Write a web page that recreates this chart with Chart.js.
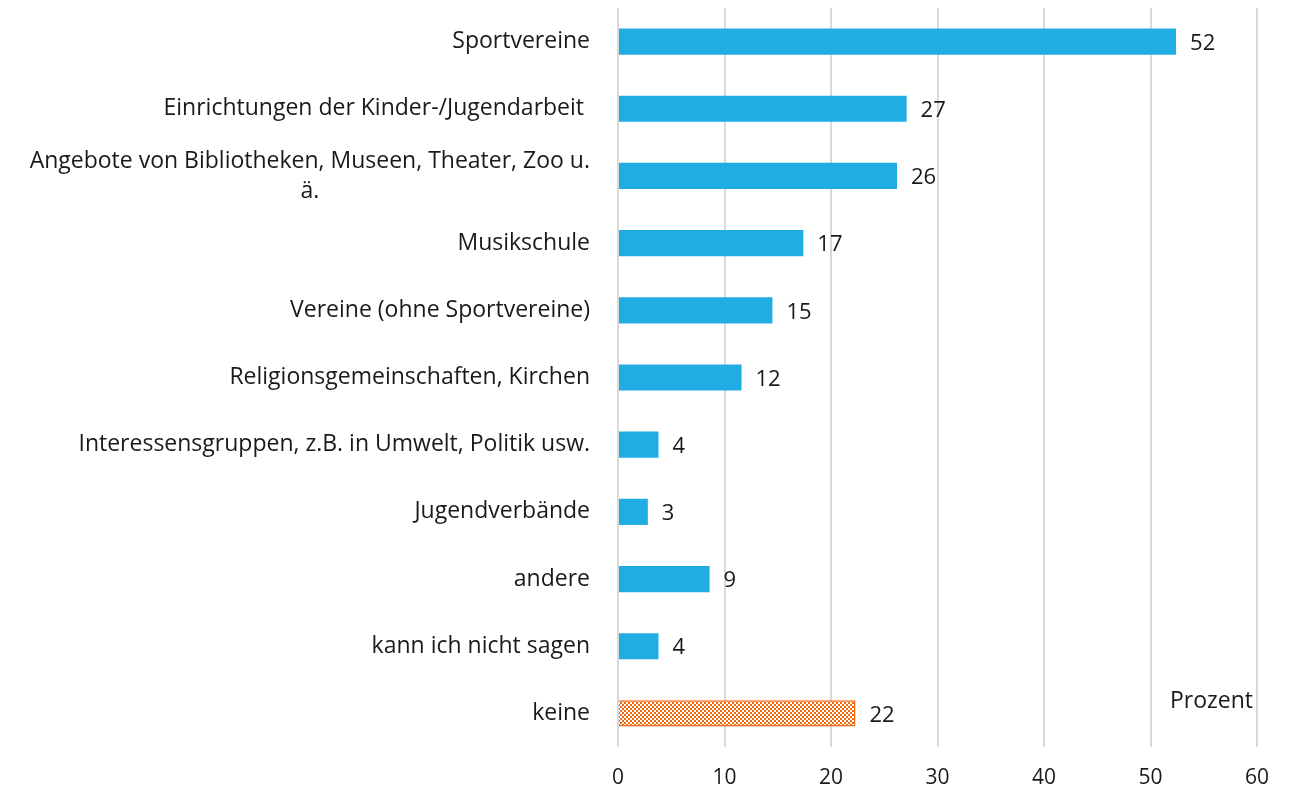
<!DOCTYPE html>
<html>
<head>
<meta charset="utf-8">
<script src="https://cdn.jsdelivr.net/npm/chart.js@4.4.0/dist/chart.umd.min.js"></script>
<style>
  html, body { margin: 0; padding: 0; background: #fff; }
  #wrap { width: 1289px; height: 787px; }
</style>
</head>
<body>
<div id="wrap"><canvas id="chart"></canvas></div>
<script>
// --- Data ---
const categories = [
  ['Sportvereine'],
  ['Einrichtungen der Kinder-/Jugendarbeit '],
  ['Angebote von Bibliotheken, Museen, Theater, Zoo u.', 'ä.'],
  ['Musikschule'],
  ['Vereine (ohne Sportvereine)'],
  ['Religionsgemeinschaften, Kirchen'],
  ['Interessensgruppen, z.B. in Umwelt, Politik usw.'],
  ['Jugendverbände'],
  ['andere'],
  ['kann ich nicht sagen'],
  ['keine']
];
const values = [52.4, 27.1, 26.2, 17.4, 14.5, 11.6, 3.8, 2.8, 8.6, 3.8, 22.3];
const valueLabels = ['52', '27', '26', '17', '15', '12', '4', '3', '9', '4', '22'];
const xTicks = [0, 10, 20, 30, 40, 50, 60];
const axisTitle = 'Prozent';

// --- Style ---
const FONT = '"Open Sans", "Noto Sans", sans-serif';
const BLUE = '#1FADE4';
const ORANGE = '#F2690F';

function makeHatch() {
  const c = document.createElement('canvas');
  c.width = 4; c.height = 4;
  const g = c.getContext('2d');
  g.fillStyle = ORANGE;
  g.fillRect(0, 0, 4, 4);
  g.fillStyle = '#ffffff';
  g.fillRect(0, 0, 2, 2);
  g.fillRect(2, 2, 2, 2);
  return g.createPattern(c, 'repeat');
}

const ctx = document.getElementById('chart').getContext('2d');
const hatch = makeHatch();

// --- Plugins: category labels, value labels, axis title ---
const labelPlugin = {
  id: 'labels',
  afterDatasetsDraw(chart) {
    const g = chart.ctx;
    const yScale = chart.scales.y;
    const meta = chart.getDatasetMeta(0);
    g.save();
    g.fillStyle = '#1a1a1a';
    g.textBaseline = 'middle';

    // category labels: block right-aligned, lines centered inside block
    g.font = '23px ' + FONT;
    const right = chart.chartArea.left - 28;
    const lineH = 30;
    categories.forEach((lines, i) => {
      const cy = yScale.getPixelForValue(i);
      const blockW = Math.max(...lines.map(l => g.measureText(l).width));
      const cx = right - blockW / 2;
      g.textAlign = 'center';
      lines.forEach((l, j) => {
        const y = cy + (j - (lines.length - 1) / 2) * lineH;
        g.fillText(l, cx, y);
      });
    });

    // value labels
    g.font = '22px ' + FONT;
    g.textAlign = 'left';
    meta.data.forEach((bar, i) => {
      g.fillText(valueLabels[i], bar.x + 14, bar.y + 2);
    });

    // axis title
    g.font = '23px ' + FONT;
    g.textAlign = 'right';
    g.fillText(axisTitle, chart.chartArea.right - 4, yScale.getPixelForValue(10) - 12);
    g.restore();
  }
};

new Chart(ctx, {
  type: 'bar',
  data: {
    labels: categories.map(l => l.join(' ')),
    datasets: [{
      data: values,
      backgroundColor: values.map((v, i) => i === values.length - 1 ? hatch : BLUE),
      borderColor: values.map((v, i) => i === values.length - 1 ? ORANGE : BLUE),
      borderWidth: values.map((v, i) => i === values.length - 1 ? 1.5 : 0),
      categoryPercentage: 1,
      barPercentage: 0.39
    }]
  },
  options: {
    indexAxis: 'y',
    responsive: true,
    maintainAspectRatio: false,
    animation: false,
    layout: { padding: { top: 8, right: 32, bottom: 0, left: 0 } },
    plugins: { legend: { display: false }, tooltip: { enabled: false } },
    scales: {
      x: {
        min: 0, max: 60,
        afterBuildTicks: s => { s.ticks = xTicks.map(v => ({ value: v })); },
        grid: { color: '#d9d9d9', lineWidth: 2, drawTicks: false },
        border: { display: false },
        ticks: { color: '#1a1a1a', font: { size: 21, family: FONT }, padding: 18 },
        afterFit: s => { s.height = 40; }
      },
      y: {
        grid: { display: false },
        border: { display: false },
        ticks: { display: false },
        afterFit: s => { s.width = 618; }
      }
    }
  },
  plugins: [labelPlugin]
});
</script>
</body>
</html>
